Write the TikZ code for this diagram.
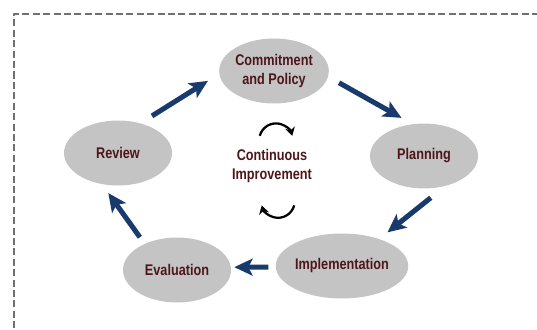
\documentclass[tikz,border=0pt]{standalone}
\usepackage{fontspec}
\setmainfont{Liberation Sans}
\newfontfamily\stagefont[FakeStretch=0.82]{Liberation Sans}
\usetikzlibrary{shapes.geometric, arrows.meta, positioning, calc}

\definecolor{stagegray}{RGB}{196,196,196}
\definecolor{stagetext}{RGB}{78,22,28}
\definecolor{flowblue}{RGB}{24,58,108}
\definecolor{framegray}{RGB}{112,112,112}

\begin{document}
\begin{tikzpicture}[line join=round, >=Stealth,
    stage/.style={ellipse, fill=stagegray, minimum width=2.7cm, minimum height=1.625cm, inner sep=0pt,
        align=center, text=stagetext, font=\stagefont\fontsize{11}{13.5}\selectfont\bfseries},
    flow/.style={-{Stealth[length=13pt, width=12pt, inset=3pt]}, line width=3.6pt, flowblue},
    turn/.style={-{Stealth[length=6pt, width=7pt]}, line width=1.6pt, black}]
    \useasboundingbox (0,0) rectangle (13.425,8.225);
    
    % 虚线边框
    \draw[framegray, line width=1.4pt, dash pattern=on 5pt off 2.4pt] (0.35,-0.5) |- (14,7.875);
    
    % 五个阶段
    \node[stage] (C) at (6.85,6.45) {Commitment\\and Policy};
    \node[stage] (P) at (10.60,4.325) {Planning};
    \node[stage] (I) at (8.55,1.575) {Implementation};
    \node[stage] (E) at (4.425,1.475) {Evaluation};
    \node[stage] (R) at (2.95,4.40) {Review};
    
    % 中间文字
    \node[align=center, text=stagetext, font=\stagefont\fontsize{11}{13.5}\selectfont\bfseries] (M) at (6.80,4.075) {Continuous\\Improvement};
    
    % 阶段之间的箭头
    \draw[flow, shorten <=0.34cm, shorten >=0.33cm] (R.53) -- (C.183);
    \draw[flow, shorten <=0.31cm, shorten >=0.31cm] (C.-6) -- (P.110);
    \draw[flow, shorten <=0.46cm, shorten >=0.26cm] (P.-55) -- (I.36);
    \draw[flow, shorten <=0.18cm, shorten >=0.08cm] (I.181) -- (E.3);
    \draw[flow, shorten <=0.20cm, shorten >=0.27cm] (E.141) -- (R.243);
    
    % 循环小箭头
    \draw[turn] (6.90,4.72) ++(165:0.42) arc (165:15:0.42);
    \draw[turn] (6.95,3.20) ++(-15:0.42) arc (-15:-165:0.42);
\end{tikzpicture}
\end{document}
